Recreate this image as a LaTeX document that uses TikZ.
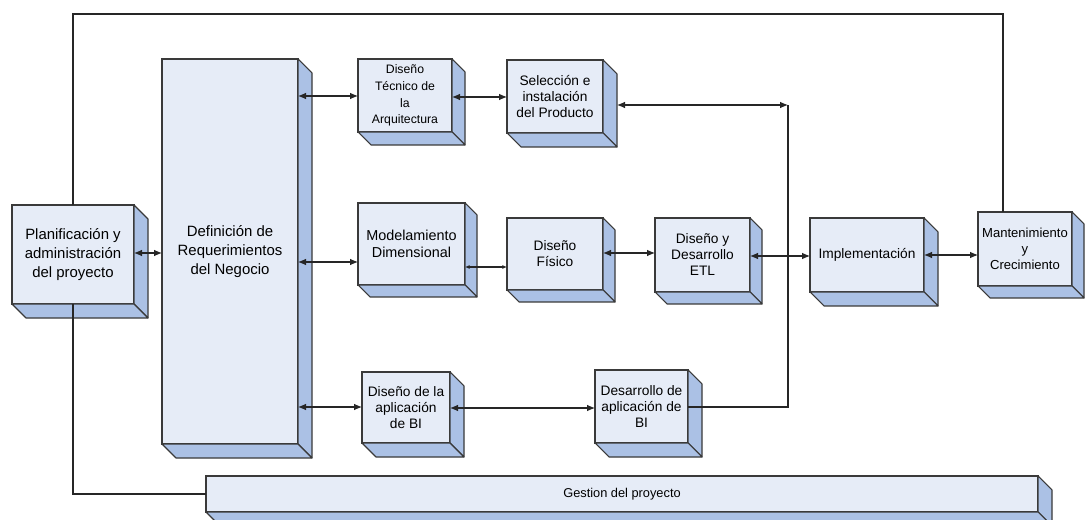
\documentclass[tikz,border=0pt]{standalone}
\usepackage{fontspec}
\setmainfont{Liberation Sans}
\usetikzlibrary{arrows.meta}
\definecolor{facecol}{HTML}{E6ECF7}
\definecolor{sidecol}{HTML}{ABC1E5}
\definecolor{edgecol}{HTML}{3A3A3A}
\tikzset{
 blkface/.style={draw=edgecol, fill=facecol, line width=0.8pt, inner sep=0pt, outer sep=0pt, align=center, font=\fontsize{10.3}{12}\selectfont},
 depthface/.style={fill=sidecol, draw=edgecol, line width=0.8pt, line join=round},
 conn/.style={draw=black!85, line width=0.8pt},
 dbl/.style={conn, {Latex[length=6pt,width=5pt]}-{Latex[length=6pt,width=5pt]}},
 dbls/.style={conn, {Latex[length=3.5pt,width=3pt]}-{Latex[length=3.5pt,width=3pt]}},
}
% #1 node options, #2 name, #3 depth, #4 x1, #5 y1, #6 x2, #7 y2, #8 text (pixel coordinates)
\newcommand\blk[8][]{%
 \node[blkface, #1, minimum width={(#6-#4)*0.75pt}, minimum height={(#7-#5)*0.75pt}] (#2) at ({(#4+#6)/2},{(#5+#7)/2}) {#8};
 \filldraw[depthface] (#2.north east) -- ++(#3,#3) -- ([shift={(#3,#3)}]#2.south east) -- (#2.south east) -- cycle;
 \filldraw[depthface] (#2.south west) -- ++(#3,#3) -- ([shift={(#3,#3)}]#2.south east) -- (#2.south east) -- cycle;
}
\newcommand\lnk[4][dbl]{\draw[#1] (#2.east |- 0,#4) -- (#3.west |- 0,#4);}
\begin{document}
\begin{tikzpicture}[x=0.75pt,y=-0.75pt]
\useasboundingbox (0,0) rectangle (1085,520);
\fill[white] (0,0) rectangle (1085,520);
% blocks
\blk[font=\fontsize{11.2}{14.5}\selectfont]{plan}{14}{12}{205}{134}{304}{Planificación y\\administración\\del proyecto}
\blk[font=\fontsize{11.2}{14.5}\selectfont]{defn}{14}{162}{59}{298}{444}{Definición de\\Requerimientos\\del Negocio}
\blk[font=\fontsize{9.2}{12.5}\selectfont]{tec}{13}{358}{59}{452}{132}{Diseño\\Técnico de\\la\\Arquitectura}
\blk{sel}{14}{507}{60}{603}{133}{Selección e\\instalación\\del Producto}
\blk[font=\fontsize{10.8}{12.8}\selectfont]{mod}{12}{358}{203}{465}{285}{Modelamiento\\Dimensional}
\blk{fis}{12}{507}{218}{603}{290}{Diseño\\Físico}
\blk{etl}{12}{655}{218}{750}{292}{Diseño y\\Desarrollo\\ETL}
\blk{impl}{14}{810}{218}{924}{292}{Implementación}
\blk[font=\fontsize{9.8}{12}\selectfont]{mant}{12}{978}{212}{1072}{286}{Mantenimiento\\y\\Crecimiento}
\blk{dapp}{14}{362}{372}{450}{443}{Diseño de la\\aplicación\\de BI}
\blk{desbi}{14}{595}{370}{688}{443}{Desarrollo de\\aplicación de\\BI}
\blk[font=\fontsize{9.6}{11}\selectfont]{gest}{14}{206}{476}{1038}{512}{Gestion del proyecto}
% connectors
\coordinate (c1) at (788,105);
\coordinate (c2) at (788,407);
\coordinate (t1) at (1003,14);
\lnk{plan}{defn}{253}
\lnk{defn}{tec}{96}
\lnk{defn}{mod}{262}
\lnk{defn}{dapp}{407}
\lnk{tec}{sel}{97}
\lnk[dbls]{mod}{fis}{267}
\lnk{fis}{etl}{253}
\lnk{etl}{impl}{256}
\lnk{impl}{mant}{255}
\lnk{dapp}{desbi}{408}
\draw[conn] (desbi.east |- c2) -- (c2) -- (c1);
\draw[dbl] ([xshift=10.5pt]sel.east |- c1) -- (c1);
\draw[conn] (plan.north) |- (t1) -- (t1 |- mant.north);
\draw[conn] (plan.south) |- (gest.west |- 0,494);
\end{tikzpicture}
\end{document}
